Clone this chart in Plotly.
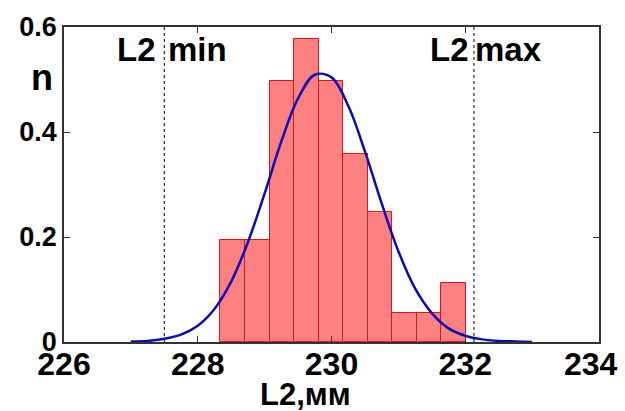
import plotly.graph_objects as go

# Histogram data
bin_edges = [228.34, 228.707, 229.074, 229.441, 229.808, 230.175, 230.542,
             230.909, 231.276, 231.643, 232.01]
bin_heights = [0.195, 0.195, 0.497, 0.578, 0.497, 0.359, 0.248, 0.056, 0.056, 0.112]

# Fitted curve points
curve_x = [227.0, 227.25, 227.5, 227.75, 228.0, 228.25, 228.5, 228.75, 229.0,
           229.25, 229.5, 229.75, 230.0, 230.25, 230.5, 230.75, 231.0, 231.25,
           231.5, 231.75, 232.0, 232.25, 232.5, 232.75, 233.0]
curve_y = [0.001, 0.002, 0.006, 0.014, 0.031, 0.063, 0.115, 0.190, 0.283,
           0.382, 0.464, 0.509, 0.504, 0.450, 0.363, 0.264, 0.173, 0.102,
           0.055, 0.026, 0.012, 0.005, 0.002, 0.001, 0.0]

# Limits
l2_min = 227.5
l2_max = 232.13

x_ticks = [226, 228, 230, 232, 234]
x_tick_text = ["226", "228", "230", "232", ""]
last_x_label = "234"
y_ticks = [0, 0.2, 0.4, 0.6]
y_tick_text = ["0", "0.2", "0.4", "0.6"]

centers = [(bin_edges[i] + bin_edges[i + 1]) / 2 for i in range(len(bin_heights))]
widths = [bin_edges[i + 1] - bin_edges[i] for i in range(len(bin_heights))]

FONT = "Liberation Sans, Arial, sans-serif"
XT = dict(family=FONT, size=32, color="black", weight="bold")

fig = go.Figure()
fig.add_trace(go.Bar(
    x=centers, y=bin_heights, width=widths,
    marker=dict(color="#FF8080", line=dict(color="#D81818", width=1)),
    showlegend=False,
))
fig.add_trace(go.Scatter(
    x=curve_x, y=curve_y, mode="lines",
    line=dict(color="#0A0AB8", width=2.5, shape="spline"),
    showlegend=False,
))

for xv in (l2_min, l2_max):
    fig.add_shape(type="line", x0=xv, x1=xv, y0=0, y1=0.6, xref="x", yref="y",
                  line=dict(color="black", width=1, dash="3px,3px"))

txt_font = dict(family=FONT, size=33, color="black", weight="bold")
fig.add_annotation(x=227.40, y=0.558, xref="x", yref="y", text="L2", showarrow=False,
                   xanchor="right", yanchor="middle", font=txt_font)
fig.add_annotation(x=227.53, y=0.558, xref="x", yref="y", text="min", showarrow=False,
                   xanchor="left", yanchor="middle", font=txt_font)
fig.add_annotation(x=232.08, y=0.558, xref="x", yref="y", text="L2", showarrow=False,
                   xanchor="right", yanchor="middle", font=txt_font)
fig.add_annotation(x=232.12, y=0.558, xref="x", yref="y", text="max", showarrow=False,
                   xanchor="left", yanchor="middle", font=txt_font)

# last x tick label, kept inside the picture as in the reference
fig.add_annotation(x=234, y=0, xref="x", yref="y", text=last_x_label, showarrow=False,
                   xanchor="center", yanchor="top", xshift=-8, yshift=-2, font=XT)

# axis titles
fig.add_annotation(x=-0.041, y=0.84, xref="paper", yref="paper", text="n", showarrow=False,
                   xanchor="center", yanchor="middle",
                   font=dict(family=FONT, size=36, color="black", weight="bold"))
fig.add_annotation(x=0.452, y=0, xref="paper", yref="paper", text="L2,мм", showarrow=False,
                   xanchor="center", yanchor="top", yshift=-33,
                   font=dict(family=FONT, size=31, color="black", weight="bold"))

fig.update_layout(
    width=625, height=411,
    margin=dict(l=64, r=26, t=22, b=69),
    paper_bgcolor="white", plot_bgcolor="white",
    bargap=0,
    xaxis=dict(range=[226, 234], tickvals=x_ticks, ticktext=x_tick_text,
               ticks="inside", ticklen=6, tickcolor="#333", showline=True, linecolor="#333",
               linewidth=1.5, mirror="ticks", showgrid=False, zeroline=False,
               ticklabelstandoff=-7, tickfont=XT),
    yaxis=dict(range=[0, 0.6], tickvals=y_ticks, ticktext=y_tick_text,
               ticks="inside", ticklen=6, tickcolor="#333", showline=True, linecolor="#333",
               linewidth=1.5, mirror="ticks", showgrid=False, zeroline=False,
               tickfont=dict(family=FONT, size=27, color="black", weight="bold")),
)

fig.write_html("out.html")
